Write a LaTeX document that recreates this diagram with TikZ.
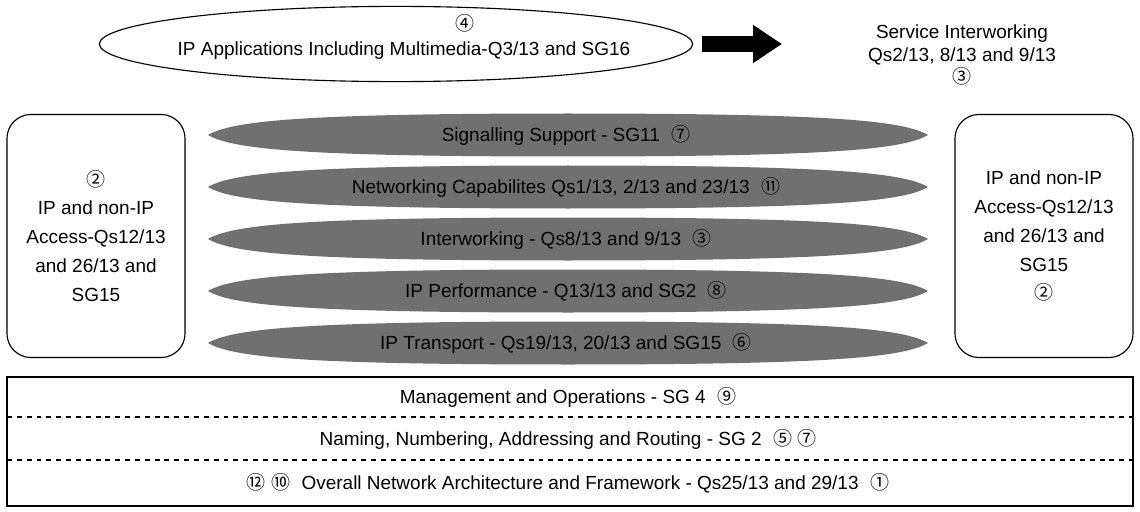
\documentclass[tikz,border=0pt]{standalone}
\usepackage{fontspec}
\setmainfont{Liberation Sans}
\newfontfamily\circfont{Noto Sans CJK KR}
\newcommand{\cn}[1]{{\circfont #1}}
\usetikzlibrary{shapes.geometric,arrows.meta}

\begin{document}
\begin{tikzpicture}[x=0.025cm,y=-0.025cm,
  font=\fontsize{13.5}{16.3}\selectfont,
  leaf/.style={fill=black!56},
  sidebox/.style={draw,line width=0.8pt,rounded corners=0.6cm,minimum width=4.45cm,
    minimum height=6.075cm,align=center,font=\fontsize{13.5}{20.6}\selectfont},
  bigarrow/.style={line width=0.42cm,-{Triangle[length=0.72cm,width=0.9cm]}}]
\useasboundingbox (0,0) rectangle (1140,512);

\node[draw,ellipse,line width=0.8pt,minimum width=14.83cm,minimum height=1.88cm] (apps) at (396,44) {};
\node (num4) at (465,23) {\cn{④}};
\node (appstext) at (404,51) {IP Applications Including Multimedia-Q3/13 and SG16};
\coordinate (arrowtip) at (782,44);
\draw[bigarrow] ([xshift=0.225cm]apps.east) -- (arrowtip);
\node[align=center] (service) at (962,55) {Service Interworking\\Qs2/13, 8/13 and 9/13\\\cn{③}};

\node[sidebox] (leftaccess) at (96,236) {\cn{②}\\IP and non-IP\\Access-Qs12/13\\and 26/13 and\\SG15};
\node[sidebox] (rightaccess) at (1044,236) {IP and non-IP\\Access-Qs12/13\\and 26/13 and\\SG15\\\cn{②}};

\foreach \y/\nm/\txt in {135/signalling/{Signalling Support - SG11\hspace{.6em}\cn{⑦}},
  187/networking/{Networking Capabilites Qs1/13, 2/13 and 23/13\hspace{.6em}\cn{⑪}},
  239/interworking/{Interworking - Qs8/13 and 9/13\hspace{.6em}\cn{③}},
  291/performance/{IP Performance - Q13/13 and SG2\hspace{.6em}\cn{⑧}},
  343/transport/{IP Transport - Qs19/13, 20/13 and SG15\hspace{.6em}\cn{⑥}}}
{
\fill[leaf] (208,\y) .. controls (232,\y-14) and (300,\y-21.5) .. (568,\y-21.5)
  .. controls (836,\y-21.5) and (904,\y-14) .. (928,\y)
  .. controls (904,\y+14) and (836,\y+21.5) .. (568,\y+21.5)
  .. controls (300,\y+21.5) and (232,\y+14) .. cycle;
\node (\nm) at (566,\y) {\txt};
}

\draw[line width=0.8pt] (7,377) rectangle (1133,506);
\draw[line width=0.8pt,dash pattern=on 3.5pt off 3.5pt] (7,417) -- (1133,417);
\draw[line width=0.8pt,dash pattern=on 3.5pt off 3.5pt] (7,460) -- (1133,460);
\node (mgmt) at (568,397) {Management and Operations - SG 4\hspace{.6em}\cn{⑨}};
\node (naming) at (568,439) {Naming, Numbering, Addressing and Routing - SG 2\hspace{.6em}\cn{⑤} \cn{⑦}};
\node (overall) at (568,483) {\cn{⑫} \cn{⑩}\hspace{.6em}Overall Network Architecture and Framework - Qs25/13 and 29/13\hspace{.6em}\cn{①}};
\end{tikzpicture}
\end{document}
